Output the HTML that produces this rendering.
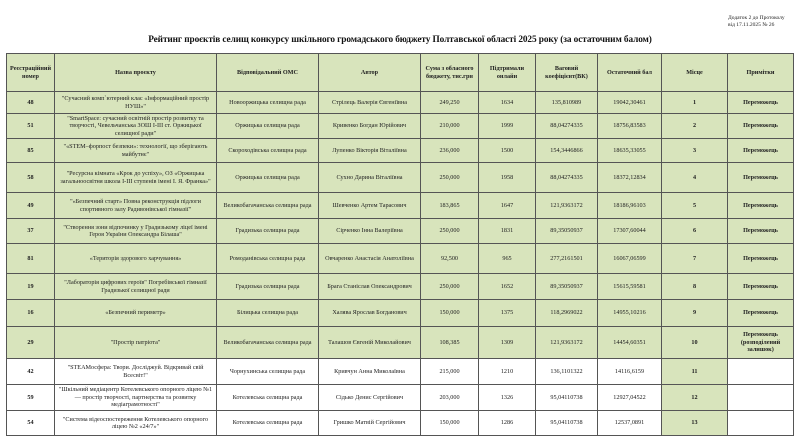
<!DOCTYPE html>
<html><head><meta charset="utf-8"><style>
body{margin:0;width:800px;height:444px;background:#fff;font-family:"Liberation Serif","Noto Serif CJK SC",serif;position:relative;overflow:hidden}
.note{position:absolute;left:728px;top:15px;font-size:5.5px;line-height:7px;color:#222}
.title{position:absolute;left:0;width:800px;top:35px;text-align:center;font-weight:bold;font-size:9.3px;color:#111;letter-spacing:-0.1px}
table{position:absolute;left:6px;top:53px;border-collapse:collapse;table-layout:fixed;width:787px}
td{border:1px solid #555;font-size:6.2px;line-height:7.4px;text-align:center;vertical-align:middle;padding:0 3px;color:#222;overflow:hidden}
tr.g td{background:#d8e4bc}
tr.w td{background:#fff}
tr.w td.m{background:#d8e4bc}
th{border:1px solid #555;background:#d8e4bc;font-size:6.2px;font-weight:bold;line-height:7.4px;color:#222;padding:0 3px}
td.b{font-weight:bold}
</style></head><body>
<div class="note">Додаток 2 до Протоколу<br>від 17.11.2025 № 26</div>
<div class="title">Рейтинг проєктів селищ конкурсу шкільного громадського бюджету Полтавської області 2025 року (за остаточним балом)</div>
<table>
<colgroup><col style="width:48px"><col style="width:162px"><col style="width:102px"><col style="width:102px"><col style="width:58px"><col style="width:57px"><col style="width:62px"><col style="width:64px"><col style="width:66px"><col style="width:66px"></colgroup>
<tr style="height:38px"><th>Реєстраційний номер</th><th>Назва проєкту</th><th>Відповідальний ОМС</th><th>Автор</th><th>Сума з обласного бюджету, тис.грн</th><th>Підтримали онлайн</th><th>Ваговий коефіцієнт(ВК)</th><th>Остаточний бал</th><th>Місце</th><th>Примітки</th></tr>
<tr class="g" style="height:22px"><td class="b">48</td><td>"Сучасний комп`ютерний клас «Інформаційний простір НУШ»"</td><td>Новооржицька селищна рада</td><td>Стрілець Валерія Євгеніївна</td><td>249,250</td><td>1634</td><td>135,810989</td><td>19042,30461</td><td class="b">1</td><td class="b">Переможець</td></tr>
<tr class="g" style="height:25px"><td class="b">51</td><td>"SmartSpace: сучасний освітній простір розвитку та творчості, Чевельчанська ЗОШ І-ІІІ ст. Оржицької селищної ради"</td><td>Оржицька селищна рада</td><td>Кривенко Богдан Юрійович</td><td>210,000</td><td>1999</td><td>88,04274335</td><td>18756,83583</td><td class="b">2</td><td class="b">Переможець</td></tr>
<tr class="g" style="height:24px"><td class="b">85</td><td>"«STEM–форпост безпеки»: технології, що зберігають майбутнє"</td><td>Скороходівська селищна рада</td><td>Лупенко Вікторія Віталіївна</td><td>236,000</td><td>1500</td><td>154,3446866</td><td>18635,33055</td><td class="b">3</td><td class="b">Переможець</td></tr>
<tr class="g" style="height:30px"><td class="b">58</td><td>"Ресурсна кімната «Крок до успіху», ОЗ «Оржицька загальноосвітня школа І-ІІІ ступенів імені І. Я. Франка»"</td><td>Оржицька селищна рада</td><td>Сухно Дарина Віталіївна</td><td>250,000</td><td>1958</td><td>88,04274335</td><td>18372,12834</td><td class="b">4</td><td class="b">Переможець</td></tr>
<tr class="g" style="height:26px"><td class="b">49</td><td>"«Безпечний старт» Повна реконструкція підлоги спортивного залу Радивонівської гімназії"</td><td>Великобагачанська селищна рада</td><td>Шевченко Артем Тарасович</td><td>183,865</td><td>1647</td><td>121,9363172</td><td>18186,96103</td><td class="b">5</td><td class="b">Переможець</td></tr>
<tr class="g" style="height:25px"><td class="b">37</td><td>"Створення зони відпочинку у Градизькому ліцеї імені Героя України Олександра Білаша"</td><td>Градизька селищна рада</td><td>Сірченко Інна Валеріївна</td><td>250,000</td><td>1831</td><td>89,35050937</td><td>17307,60044</td><td class="b">6</td><td class="b">Переможець</td></tr>
<tr class="g" style="height:30px"><td class="b">81</td><td>«Територія здорового харчування»</td><td>Ромоданівська селищна рада</td><td>Овчаренко Анастасія Анатоліївна</td><td>92,500</td><td>965</td><td>277,2161501</td><td>16067,06599</td><td class="b">7</td><td class="b">Переможець</td></tr>
<tr class="g" style="height:26px"><td class="b">19</td><td>"Лабораторія цифрових героїв" Погребівської гімназії Градизької селищної ради</td><td>Градизька селищна рада</td><td>Брага Станіслав Олександрович</td><td>250,000</td><td>1652</td><td>89,35050937</td><td>15615,59581</td><td class="b">8</td><td class="b">Переможець</td></tr>
<tr class="g" style="height:27px"><td class="b">16</td><td>«Безпечний периметр»</td><td>Білицька селищна рада</td><td>Халява Ярослав Богданович</td><td>150,000</td><td>1375</td><td>118,2969022</td><td>14955,10216</td><td class="b">9</td><td class="b">Переможець</td></tr>
<tr class="g" style="height:32px"><td class="b">29</td><td>"Простір патріота"</td><td>Великобагачанська селищна рада</td><td>Талашов Євгеній Миколайович</td><td>108,385</td><td>1309</td><td>121,9363172</td><td>14454,60351</td><td class="b">10</td><td class="b">Переможець (розподілений залишок)</td></tr>
<tr class="w" style="height:26px"><td class="b">42</td><td>"STEAMосфера: Твори. Досліджуй. Відкривай свій Всесвіт!"</td><td>Чорнухинська селищна рада</td><td>Кривчун Анна Миколаївна</td><td>215,000</td><td>1210</td><td>136,1101322</td><td>14116,6159</td><td class="m b">11</td><td></td></tr>
<tr class="w" style="height:26px"><td class="b">59</td><td>"Шкільний медіацентр Котелевського опорного ліцею №1 — простір творчості, партнерства та розвитку медіаграмотності"</td><td>Котелевська селищна рада</td><td>Сідько Денис Сергійович</td><td>203,000</td><td>1326</td><td>95,04110738</td><td>12927,04522</td><td class="m b">12</td><td></td></tr>
<tr class="w" style="height:25px"><td class="b">54</td><td>"Система відеоспостереження Котелевського опорного ліцею №2 «24/7»"</td><td>Котелевська селищна рада</td><td>Гришко Матвій Сергійович</td><td>150,000</td><td>1286</td><td>95,04110738</td><td>12537,0891</td><td class="m b">13</td><td></td></tr>
</table>
</body></html>
